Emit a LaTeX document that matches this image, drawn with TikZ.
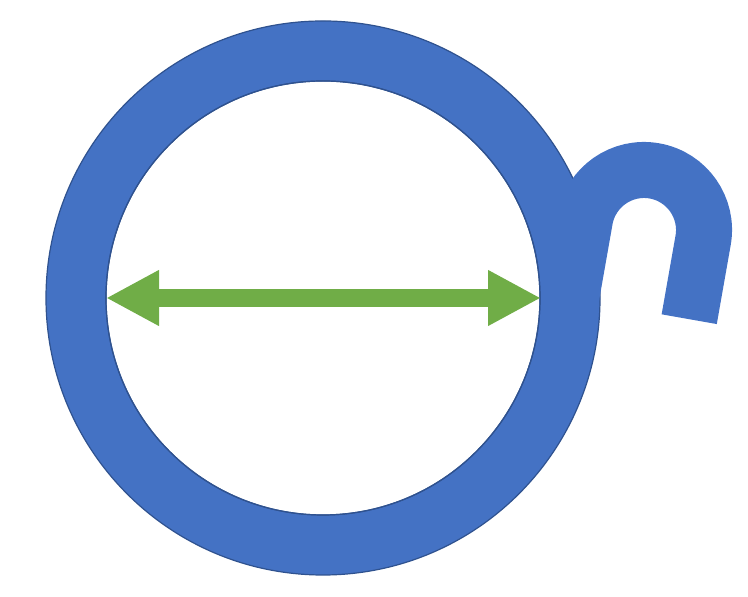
\documentclass[tikz,border=0pt]{standalone}
\usepackage{tikz}
\usetikzlibrary{arrows.meta}
\definecolor{ringblue}{HTML}{4472C4}
\definecolor{edgeblue}{HTML}{2F528F}
\definecolor{spangreen}{HTML}{70AD47}
\tikzset{
x=0.5pt, y=0.5pt, % one unit is one pixel of the reference
ring/.style={fill=ringblue, even odd rule, draw=edgeblue, line width=0.6pt}, % the thick ring
hook/.style={draw=ringblue, line width=28pt, line cap=butt}, % the hook on the right
span/.style={draw=spangreen, line width=9pt, {Triangle[length=26.5pt, width=26pt]}-{Triangle[length=26.5pt, width=26pt]}}, % the diameter arrow
}
\begin{document}
\begin{tikzpicture}
                \useasboundingbox (0,0) rectangle (748,597);
                \coordinate (c) at (323,299);
                \coordinate (h) at (644,367);
                % ring
                \path[ring] (c) circle[radius=277] (c) circle[radius=217];
                % hook on top of the ring
                \begin{scope}[shift={(h)}, rotate=-10]
                    \draw[hook] (-60,-90) -- (-60,0) arc[start angle=180, end angle=0, radius=60] -- (60,-80);
                \end{scope}
                \draw[edgeblue, line width=0.6pt] (c) circle[radius=217];
                % diameter
                \coordinate (west) at (106,299);
                \coordinate (east) at (541,299);
                \draw[span] (west) -- (east);
                \end{tikzpicture}
\end{document}
